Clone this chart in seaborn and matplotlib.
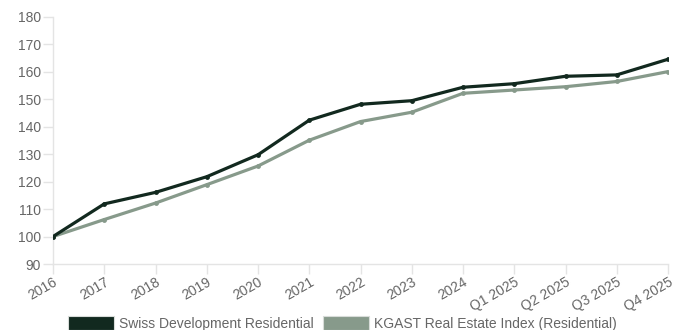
import matplotlib
matplotlib.use("Agg")
import matplotlib.pyplot as plt
import seaborn as sns
import pandas as pd
from matplotlib.patches import Patch

periods = ["2016", "2017", "2018", "2019", "2020", "2021", "2022", "2023", "2024",
           "Q1 2025", "Q2 2025", "Q3 2025", "Q4 2025"]
swiss_dev = [100, 111.9, 116.1, 121.8, 129.8, 142.4, 148.2, 149.5, 154.4, 155.7, 158.4, 158.9, 164.6]
kgast = [100, 106.2, 112.2, 118.9, 125.7, 135.1, 141.9, 145.3, 152.2, 153.4, 154.6, 156.5, 160.1]
series_names = ["Swiss Development Residential", "KGAST Real Estate Index (Residential)"]
colors = ["#12291f", "#879a8b"]
y_ticks = [90, 100, 110, 120, 130, 140, 150, 160, 170, 180]

sns.set_theme(style="white")
plt.rcParams['font.family'] = ['Liberation Sans', 'DejaVu Sans']

rows = []
for name, vals in zip(series_names, [swiss_dev, kgast]):
    for i, (p, v) in enumerate(zip(periods, vals)):
        rows.append({"idx": i, "period": p, "value": v, "series": name})
df = pd.DataFrame(rows)

fig = plt.figure(figsize=(6.85, 3.3), dpi=100)
ax = fig.add_axes([53/685, 1 - 264/330, (668 - 53)/685, (264 - 17)/330])

for name, col, z in [(series_names[1], colors[1], 2), (series_names[0], colors[0], 3)]:
    sns.lineplot(data=df[df.series == name], x="idx", y="value", color=col, lw=2.3,
                 marker="o", markersize=3.5, markeredgewidth=0, ax=ax, zorder=z, legend=False)

ax.set_xlim(0, len(periods) - 1)
ax.set_ylim(90, 180)
ax.set_yticks(y_ticks)
ax.set_xticks(range(len(periods)))
ax.set_xticklabels(periods, rotation=30, ha="right", rotation_mode="anchor")
ax.set_xlabel("")
ax.set_ylabel("")
for s in ["top", "right"]:
    ax.spines[s].set_visible(False)
for s in ["left", "bottom"]:
    ax.spines[s].set_color("#e4e4e4")
    ax.spines[s].set_linewidth(1)
ax.tick_params(axis="both", which="both", length=7, width=1, color="#e4e4e4",
               labelcolor="#666666", labelsize=10, pad=1.5, left=True, bottom=True)
ax.tick_params(axis="x", pad=1)

handles = [Patch(facecolor=colors[0], edgecolor="#d8dcd9", lw=0.8),
           Patch(facecolor=colors[1], edgecolor="#d8dcd9", lw=0.8)]
leg = fig.legend(handles, series_names, loc="lower center", bbox_to_anchor=(0.5, -0.04),
                 ncol=2, frameon=False, fontsize=10, handlelength=3.3, handleheight=1.2,
                 columnspacing=0.7, handletextpad=0.35)
for t in leg.get_texts():
    t.set_color("#666666")

fig.savefig("out.png", dpi=100)
